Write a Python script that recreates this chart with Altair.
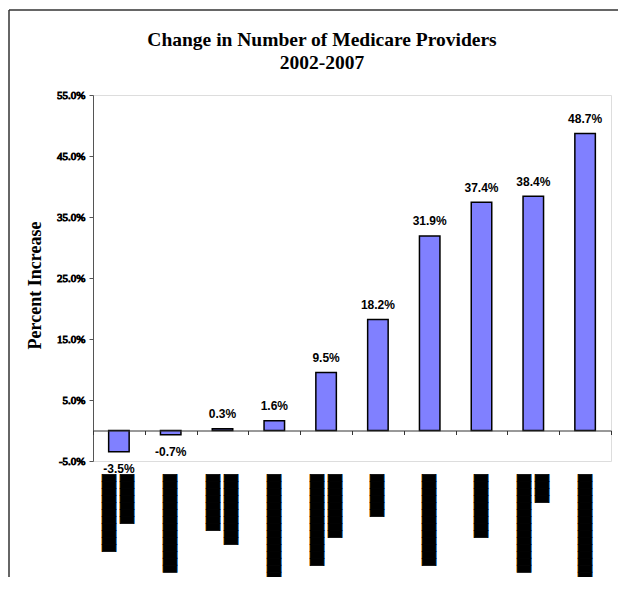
import altair as alt
import pandas as pd

# ---- data ----
values = [-3.5, -0.7, 0.3, 1.6, 9.5, 18.2, 31.9, 37.4, 38.4, 48.7]
value_labels = ["-3.5%", "-0.7%", "0.3%", "1.6%", "9.5%", "18.2%",
                "31.9%", "37.4%", "38.4%", "48.7%"]
# category names are blacked out in the reference: each line is a run of block glyphs
label_runs = [[11, 7], [14], [8, 10], [20], [13, 9], [6], [13], [9], [14, 4], [21]]
y_ticks = [-5, 5, 15, 25, 35, 45, 55]

BLOCK = "\u2588"
PAD = "\u00a0"
# DejaVu Sans Mono advance is 1233/2048 em: this size gives a whole 7px per glyph
BLOCK_FONT_SIZE = 7 * 2048 / 1233


def redacted(runs):
    longest = max(runs)
    lines = [BLOCK * n + PAD * round((longest - n) / 2) for n in runs]
    return "|".join(lines)


categories = [redacted(r) for r in label_runs]

df = pd.DataFrame({"category": categories, "value": values, "label": value_labels})

x_enc = alt.X(
    "category:N",
    sort=None,
    scale=alt.Scale(paddingInner=0, paddingOuter=0),
    axis=alt.Axis(
        title=None,
        offset=-30.5,
        domainColor="#333333",
        domainWidth=1,
        tickColor="#333333",
        tickSize=4,
        tickBand="extent",
        labelAngle=270,
        labelAlign="right",
        labelBaseline={
            "condition": {"test": "indexof(datum.label, '|') >= 0", "value": "line-bottom"},
            "value": "middle",
        },
        labelFont="DejaVu Sans Mono",
        labelFontSize=BLOCK_FONT_SIZE,
        labelLineHeight=18,
        labelPadding=39.5,
        labelLimit=0,
        labelOverlap=False,
        labelColor="black",
        labelExpr="split(datum.label, '|')",
        zindex=1,
    ),
)

y_enc = alt.Y(
    "value:Q",
    scale=alt.Scale(domain=[-5, 55], nice=False, zero=False),
    axis=alt.Axis(
        values=y_ticks,
        labelExpr="(datum.value < 0 ? '-' : '') + format(abs(datum.value), '.1f') + '%'",
        grid=False,
        tickSize=4,
        domainColor="#555555",
        tickColor="#555555",
        labelFont="Liberation Serif",
        labelFontWeight="normal",
        labelFontSize=11,
        labelColor="black",
        labelPadding=4,
        title="Percent Increase",
        titleFont="Liberation Serif",
        titleFontSize=18,
        titleFontWeight="bold",
        titleColor="black",
        titleX=-58,
        titleY=190,
        titleAngle=270,
        titleAlign="center",
        titleBaseline="middle",
    ),
)

base = alt.Chart(df)

bars = base.mark_bar(size=20.5, color="#8080FF", stroke="black", strokeWidth=1.5).encode(
    x=x_enc, y=y_enc
)

pos_text = base.transform_filter("datum.value >= 0").mark_text(
    font="Liberation Sans", fontWeight="bold", fontSize=12, color="black",
    baseline="alphabetic", dy=-10.5,
).encode(x=alt.X("category:N", sort=None), y="value:Q", text="label:N")

neg_text = base.transform_filter("datum.value < 0").mark_text(
    font="Liberation Sans", fontWeight="bold", fontSize=12, color="black",
    baseline="alphabetic", dy=21,
).encode(x=alt.X("category:N", sort=None), y="value:Q", text="label:N")

one = pd.DataFrame({"f": [0]})
frame_top = alt.Chart(one).mark_rule(stroke="#333333", strokeWidth=1.5).encode(
    x=alt.value(-84), x2=alt.value(800), y=alt.value(-85)
)
frame_left = alt.Chart(one).mark_rule(stroke="#333333", strokeWidth=1.5).encode(
    x=alt.value(-84), y=alt.value(-85), y2=alt.value(800)
)

chart = alt.layer(frame_top, frame_left, bars, pos_text, neg_text).properties(
    width=518,
    height=366,
    padding={"left": 85, "top": 87, "right": 7, "bottom": 116},
    autosize=alt.AutoSizeParams(type="none"),
    title=alt.TitleParams(
        ["Change in Number of Medicare Providers", "2002-2007"],
        font="Liberation Serif", fontSize=19.5, fontWeight="bold", color="black",
        lineHeight=23, dx=-30, offset=-64, anchor="middle",
    ),
).configure_view(stroke=None).configure(
    background="white",
    style={"guide-label": {"stroke": "black", "strokeWidth": 0.9}},
)

chart.save("out.html", embed_options={"renderer": "svg", "actions": False})
